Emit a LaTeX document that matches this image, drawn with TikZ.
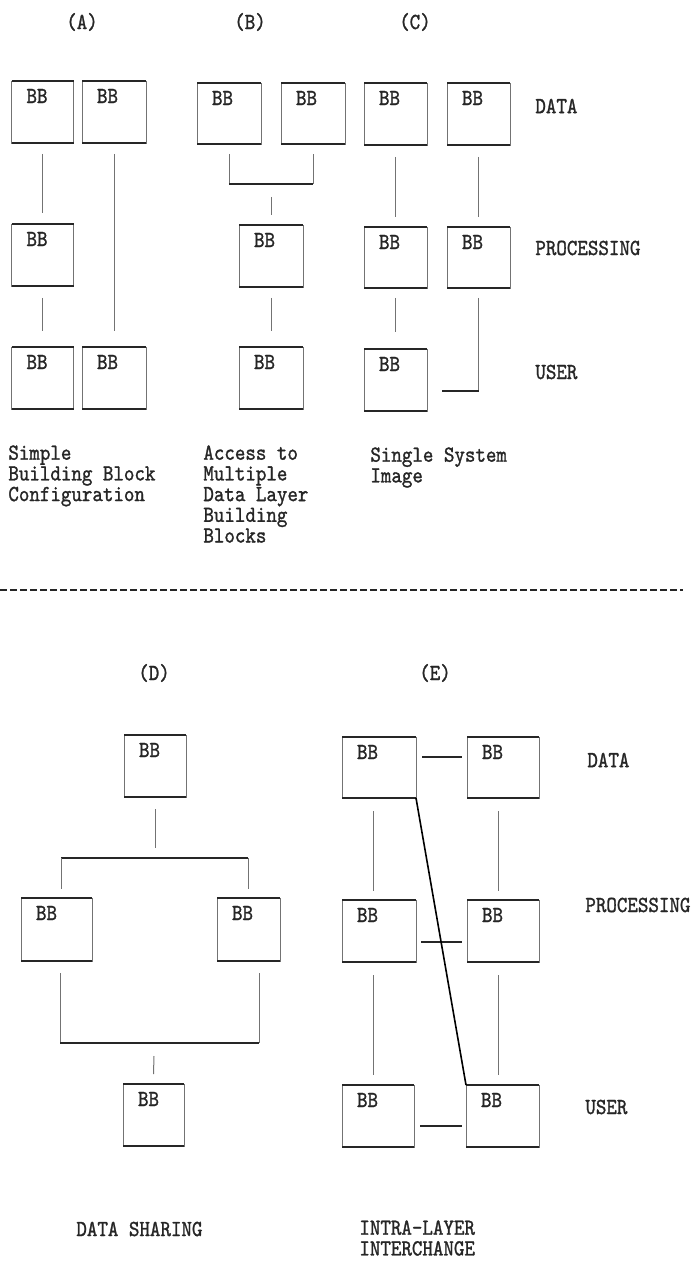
\documentclass[tikz,border=0pt]{standalone}
\usepackage{fontspec}
\newfontfamily\dotfont[FakeStretch=0.87,FakeBold=1.2]{lmmono10-regular.otf}
\begin{document}
\begin{tikzpicture}[x=0.5pt,y=-0.5pt,
  txt/.style={font=\dotfont\fontsize{11.5}{10.35}\selectfont, text=black!85, inner sep=0pt},
  hedge/.style={draw=black!85, line width=0.9pt},
  bbox/.style={draw=black!55, line width=0.45pt, minimum width=31pt, minimum height=31pt,
    inner sep=0pt, outer sep=0pt,
    label={[txt,anchor=center,xshift=12.75pt,yshift=-7.5pt]north west:BB},
    append after command={(\tikzlastnode.north west) edge[hedge] (\tikzlastnode.north east)
      (\tikzlastnode.south west) edge[hedge] (\tikzlastnode.south east)}},
  vconn/.style={draw=black!55, line width=0.5pt},
  hconn/.style={draw=black!85, line width=0.9pt},
  diag/.style={draw=black, line width=0.8pt},
  sepline/.style={draw=black!85, line width=0.7pt, dash pattern=on 3.5pt off 1.5pt}]
\useasboundingbox (0,0) rectangle (691,1262);

% panel titles
\node[txt] (tA) at (82,22) {(A)};
\node[txt] (tB) at (250,22) {(B)};
\node[txt] (tC) at (415,22) {(C)};
\node[txt] (tD) at (154,673) {(D)};
\node[txt] (tE) at (435,673) {(E)};

% layer labels
\node[txt,anchor=west] (ldata1) at (535,106) {DATA};
\node[txt,anchor=west] (lproc1) at (535,248) {PROCESSING};
\node[txt,anchor=west] (luser1) at (535,372) {USER};
\node[txt,anchor=west] (ldata2) at (587,760) {DATA};
\node[txt,anchor=west] (lproc2) at (585,905) {PROCESSING};
\node[txt,anchor=west] (luser2) at (585,1107) {USER};

% (A)
\node[bbox] (A1) at (42.5,112) {};
\node[bbox,minimum width=32pt] (A2) at (114,112) {};
\node[bbox] (A3) at (42.5,255) {};
\node[bbox] (A4) at (42.5,378) {};
\node[bbox,minimum width=32pt] (A5) at (114,378) {};
\draw[vconn,shorten <=5.5pt,shorten >=5.5pt] (A1.south) -- (A3.north);
\draw[vconn,shorten <=6pt,shorten >=8pt] (A3.south) -- (A4.north);
\draw[vconn,shorten <=5.5pt,shorten >=8pt] (A2.south) -- (A5.north);

% (B)
\node[bbox,minimum width=32pt,minimum height=30.5pt] (B1) at (229,113.5) {};
\node[bbox,minimum width=32pt,minimum height=30.5pt] (B2) at (313,113.5) {};
\node[bbox,minimum width=32pt] (B3) at (271,256) {};
\node[bbox,minimum width=32pt] (B4) at (271,378) {};
\coordinate (bj) at (271,184);
\coordinate (bjl) at (229,184);
\coordinate (bjr) at (313,184);
\draw[vconn] ([yshift=-5pt]B1.south) -- (bjl);
\draw[hconn] (bjl) -- (bjr);
\draw[vconn] (bjr) -- ([yshift=-5pt]B2.south);
\draw[vconn] ([yshift=-6.5pt]bj) -- ([yshift=5pt]B3.north);
\draw[vconn,shorten <=5.5pt,shorten >=8pt] (B3.south) -- (B4.north);

% (C)
\node[bbox,minimum width=31.5pt] (C1) at (395.5,114) {};
\node[bbox,minimum width=31.5pt] (C2) at (478.5,114) {};
\node[bbox,minimum width=31.5pt,minimum height=30.5pt] (C3) at (395.5,257.5) {};
\node[bbox,minimum width=31.5pt,minimum height=30.5pt] (C4) at (478.5,257.5) {};
\node[bbox,minimum width=31.5pt] (C5) at (395.5,380) {};
\draw[vconn,shorten <=6pt,shorten >=5pt] (C1.south) -- (C3.north);
\draw[vconn,shorten <=6pt,shorten >=5pt] (C2.south) -- (C4.north);
\draw[vconn,shorten <=5pt,shorten >=8.5pt] (C3.south) -- (C5.north);
\coordinate (cl) at (478.5,391);
\draw[vconn] ([yshift=-5pt]C4.south) -- (cl);
\draw[hconn] (cl) -- ([xshift=7.5pt,yshift=-5.5pt]C5.east);

% captions top
\node[txt,anchor=north west,align=left] (capA) at (8,445) {Simple\\Building Block\\Configuration};
\node[txt,anchor=north west,align=left] (capB) at (203,445) {Access to\\Multiple\\Data Layer\\Building\\Blocks};
\node[txt,anchor=north west,align=left] (capC) at (370,447) {Single System\\Image};

% separator
\coordinate (sepL) at (0,590);
\coordinate (sepR) at (683,590);
\draw[sepline] (sepL) -- (sepR);

% (D)
\node[bbox] (D1) at (155,766) {};
\node[bbox,minimum width=35.5pt,minimum height=31.5pt] (D2) at (56.5,929.5) {};
\node[bbox,minimum width=31.5pt,minimum height=31.5pt] (D3) at (248.5,929.5) {};
\node[bbox,minimum width=30.5pt] (D4) at (153.5,1115) {};
\coordinate (dt) at (155,858);
\coordinate (dtl) at (61,858);
\coordinate (dtr) at (248,858);
\coordinate (dtle) at (61,889);
\coordinate (dtre) at (248,889);
\draw[vconn] ([yshift=-6pt]D1.south) -- ([yshift=5pt]dt);
\draw[hconn] (dtl) -- (dtr);
\draw[vconn] (dtl) -- (dtle);
\draw[vconn] (dtr) -- (dtre);
\coordinate (dbls) at (60,973);
\coordinate (dbrs) at (259,973);
\coordinate (dbl) at (60,1043);
\coordinate (dbr) at (259,1043);
\coordinate (dbm) at (154,1043);
\draw[vconn] (dbls) -- (dbl);
\draw[vconn] (dbrs) -- (dbr);
\draw[hconn] (dbl) -- (dbr);
\draw[vconn] ([yshift=-6.5pt]dbm) -- ([yshift=5pt]D4.north);
\node[txt,anchor=west] (capD) at (76,1229) {DATA SHARING};

% (E)
\node[bbox,minimum width=37pt,minimum height=30.5pt] (E1) at (379,767.5) {};
\node[bbox,minimum width=36pt,minimum height=30.5pt] (E2) at (503,767.5) {};
\node[bbox,minimum width=37pt] (E3) at (379,931) {};
\node[bbox,minimum width=36pt] (E4) at (503,931) {};
\node[bbox,minimum width=36pt] (E5) at (378,1116) {};
\node[bbox,minimum width=36.5pt] (E6) at (502.5,1116) {};
\draw[hconn] ([xshift=3pt,yshift=5.25pt]E1.east) -- ([xshift=-2.5pt,yshift=5.25pt]E2.west);
\draw[hconn] ([xshift=2.5pt,yshift=-5.5pt]E3.east) -- ([xshift=-2.5pt,yshift=-5.5pt]E4.west);
\draw[hconn] ([xshift=3pt,yshift=-5pt]E5.east) -- ([xshift=-2pt,yshift=-5pt]E6.west);
\draw[vconn] ([xshift=-3pt,yshift=-6.5pt]E1.south) -- ([xshift=-3pt,yshift=4.5pt]E3.north);
\draw[vconn] ([xshift=-2.5pt,yshift=-6.5pt]E2.south) -- ([xshift=-2.5pt,yshift=4.5pt]E4.north);
\draw[vconn] ([xshift=-3pt,yshift=-6.5pt]E3.south) -- ([xshift=-2.5pt,yshift=5pt]E5.north);
\draw[vconn] ([xshift=-2.5pt,yshift=-6.5pt]E4.south) -- ([xshift=-2.25pt,yshift=5pt]E6.north);
\draw[diag] (E1.south east) -- (E6.north west);
\node[txt,anchor=north west,align=left] (capE) at (359,1220) {INTRA-LAYER\\INTERCHANGE};
\end{tikzpicture}
\end{document}
